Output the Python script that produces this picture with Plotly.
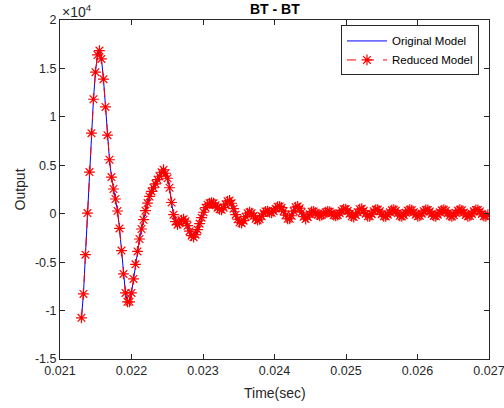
import numpy as np
import plotly.graph_objects as go

# ---- data ----
sample_start = 0.0213      # s, first sample time
sample_step = 2.8e-5       # s, sampling interval of the simulation

original_output = [
    -10750, -8280, -4230, 70, 4300, 8320, 11820, 14610, 16390, 16840,
    15980, 13890, 11030, 8110, 5570, 3780, 2550, 1520, 280, -1520,
    -3810, -6220, -8180, -9100, -9100, -8180, -6730, -5230, -3890, -2610,
    -1580, -620, 310, 1100, 1780, 2300, 2680, 3090, 3510, 3870,
    4280, 4540, 4180, 3660, 2680, 1160, -100, -820, -1130, -980,
    -670, -570, -770, -1240, -1800, -2270, -2420, -2160, -1650, -1030,
    -410, 150, 620, 930, 1080, 1130, 1080, 880, 620, 460,
    410, 620, 980, 1290, 1370, 1080, 520, -100, -570, -880,
    -980, -720, -310, 50, 150, 50, -210, -520, -670, -570,
    -260, 50, 240, 260, 150, 100, 260, 520, 720, 750,
    620, 260, -150, -520, -520, -210, 260, 670, 750, 570,
    150, -310, -550, -360, -50, 210, 240, 100, -100, -210,
    -150, 0, 150, 240, 210, 50, -150, -210, -150, 50,
    310, 460, 480, 310, 0, -260, -340, -150, 150, 460,
    520, 310, 0, -260, -260, -50, 260, 430, 430, 260,
    -50, -260, -280, -100, 150, 360, 410, 310, 50, -210,
    -280, -150, 100, 310, 410, 360, 150, -100, -260, -210,
    0, 260, 390, 390, 230, -20, -230, -270, -100, 140,
    350, 410, 310, 60, -190, -280, -160, 80, 310, 410,
    350, 120, -120, -270, -230, -20, 250, 390, 390, 230,
    -20, -250, -270, -100,
]
# the reduced model coincides with the original model to pixel precision
reduced_output = list(original_output)

time = sample_start + sample_step * np.arange(len(original_output))

x_ticks = [0.021, 0.022, 0.023, 0.024, 0.025, 0.026, 0.027]
x_tick_labels = ["0.021", "0.022", "0.023", "0.024", "0.025", "0.026", "0.027"]
y_ticks = [-15000, -10000, -5000, 0, 5000, 10000, 15000, 20000]
y_tick_labels = ["-1.5", "-1", "-0.5", "0", "0.5", "1", "1.5", "2"]

AX = "#262626"
FONT = "Liberation Sans, Arial, sans-serif"

fig = go.Figure()
fig.add_trace(go.Scatter(
    x=time, y=original_output, mode="lines", name="Original Model",
    line=dict(color="#0000FF", width=1),
))
fig.add_trace(go.Scatter(
    x=time, y=reduced_output, mode="lines+markers", name="Reduced Model",
    line=dict(color="#FF0000", width=1, dash="dash"),
    marker=dict(symbol="asterisk-open", size=9, color="#FF0000",
                line=dict(color="#FF0000", width=1.2)),
))

axis_common = dict(
    showgrid=False, zeroline=False, showline=True, linecolor=AX, linewidth=1,
    mirror="allticks", ticks="inside", ticklen=5, tickcolor=AX, tickwidth=1,
    tickfont=dict(family=FONT, size=12.5, color=AX), automargin=False,
    ticklabeloverflow="allow",
)
fig.update_xaxes(range=[0.020999999, 0.027000001], tickvals=x_ticks,
                 ticktext=x_tick_labels, **axis_common)
fig.update_yaxes(range=[-15000, 20000], tickvals=y_ticks, ticktext=y_tick_labels,
                 **axis_common)

fig.update_layout(
    width=504, height=408,
    margin=dict(l=60, r=15, t=20, b=49),
    paper_bgcolor="white", plot_bgcolor="white",
    font=dict(family=FONT, color=AX),
    showlegend=True,
    legend=dict(x=0.655, y=0.984, xanchor="left", yanchor="top",
                bordercolor=AX, borderwidth=1, bgcolor="white",
                font=dict(family=FONT, size=11.5, color="black"),
                itemwidth=40, tracegroupgap=0),
    annotations=[
        dict(text="<b>BT - BT</b>", x=0.5, y=1, xref="paper", yref="paper",
             xanchor="center", yanchor="middle", yshift=11, showarrow=False,
             font=dict(family=FONT, size=14, color="black")),
        dict(text="×10<sup>4</sup>", x=0, y=1, xref="paper", yref="paper",
             xanchor="left", yanchor="bottom", yshift=-2, showarrow=False,
             font=dict(family=FONT, size=14, color=AX)),
        dict(text="Time(sec)", x=0.5, y=0, xref="paper", yref="paper",
             xanchor="center", yanchor="middle", yshift=-34, showarrow=False,
             font=dict(family=FONT, size=14, color=AX)),
        dict(text="Output", x=0, y=0.5, xref="paper", yref="paper",
             xanchor="center", yanchor="middle", xshift=-41, textangle=-90,
             showarrow=False, font=dict(family=FONT, size=14, color=AX)),
    ],
)

fig.write_html("out.html")
